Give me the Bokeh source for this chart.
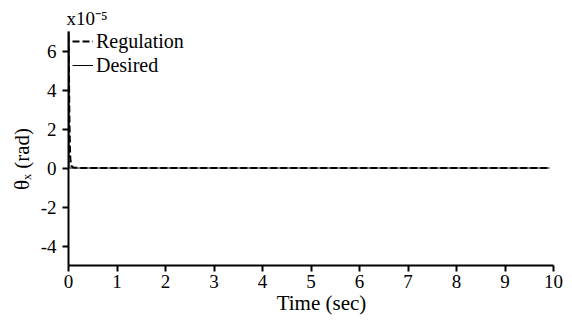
from bokeh.plotting import figure
from bokeh.models import Range1d, Legend, LegendItem, FixedTicker
from bokeh.embed import file_html
from bokeh.resources import INLINE

# values in units of 1e-5 rad
reg_t = [0.0, 0.002, 0.005, 0.01, 0.015, 0.02, 0.03, 0.04, 0.06, 0.1, 0.3, 1.0, 2.0, 3.0, 4.0, 5.0, 6.0, 7.0, 8.0, 9.0, 9.92]
reg_y = [0.0, 7.5, 6.8, 5.0, 3.5, 2.4, 1.0, 0.4, 0.1, 0.02, 0.0, 0.0, 0.0, 0.0, 0.0, 0.0, 0.0, 0.0, 0.0, 0.0, 0.0]
des_t = [0.0, 9.92]
des_y = [0.0, 0.0]
x_ticks = [0, 1, 2, 3, 4, 5, 6, 7, 8, 9, 10]
y_ticks = [-4, -2, 0, 2, 4, 6]
y_tick_labels = {-4: "-4", -2: "-2", 0: "0", 2: "2", 4: "4", 6: "6"}
scale_text = "x10⁻⁵"
NBSP = "\u00a0"

FONT = "Liberation Serif"

p = figure(width=566, height=322, output_backend="svg", toolbar_location=None,
           x_range=Range1d(0, 10), y_range=Range1d(-5, 7),
           min_border_left=68, min_border_right=13, min_border_top=31, min_border_bottom=57)
p.outline_line_color = None
p.xgrid.visible = False
p.ygrid.visible = False
p.background_fill_color = "white"

p.title.text = scale_text
p.title.align = "left"
p.title.text_font = FONT
p.title.text_font_size = "19px"
p.title.text_font_style = "normal"
p.title.text_color = "black"
p.title.offset = -2
p.title.standoff = 6

r1 = p.line(reg_t, reg_y, line_color="black", line_width=2, line_dash="7 3")
r2 = p.line(des_t, des_y, line_color="black", line_width=1)

for ax in (p.xaxis[0], p.yaxis[0]):
    ax.axis_line_width = 2
    ax.major_tick_line_width = 2
    ax.major_tick_out = 6
    ax.major_tick_in = 0
    ax.minor_tick_line_color = None
    ax.major_label_text_font = FONT
    ax.major_label_text_font_size = "19px"
    ax.major_label_text_color = "black"
    ax.axis_label_text_font = FONT
    ax.axis_label_text_font_size = "21px"
    ax.axis_label_text_font_style = "normal"
    ax.axis_label_text_color = "black"

p.xaxis.ticker = FixedTicker(ticks=x_ticks)
p.yaxis.ticker = FixedTicker(ticks=y_ticks)
p.yaxis.major_label_overrides = y_tick_labels
p.xaxis.major_label_standoff = 3
p.yaxis.major_label_standoff = 6
p.xaxis.axis_label = NBSP * 4 + "Time (sec)"
p.yaxis.axis_label = "θₓ (rad)" + NBSP * 4
p.xaxis.axis_label_standoff = 0
p.yaxis.axis_label_standoff = 4

legend = Legend(items=[LegendItem(label="Regulation", renderers=[r1]),
                       LegendItem(label="Desired", renderers=[r2])],
                location=(4, 188), padding=0, margin=0, spacing=-2,
                label_height=24, glyph_height=24, glyph_width=21,
                label_standoff=3,
                border_line_color=None, background_fill_alpha=0,
                label_text_font=FONT, label_text_font_size="20px",
                label_text_color="black")
p.add_layout(legend, "center")

open("out.html", "w").write(file_html(p, INLINE))
